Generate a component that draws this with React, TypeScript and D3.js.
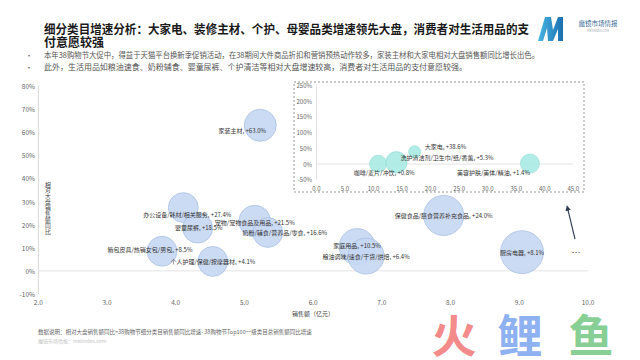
import React from "react";
import * as d3 from "d3";

// ---------- data ----------
const titleLines = [
  "细分类目增速分析：大家电、装修主材、个护、母婴品类增速领先大盘，消费者对生活用品的支",
  "付意愿较强",
];
const bulletLines = [
  "本年38购物节大促中，得益于天猫平台换新季促销活动，在38期间大件商品折扣和营销预热动作较多，家装主材和大家电相对大盘销售额同比增长出色。",
  "此外，生活用品如粮油速食、奶粉辅食、婴童尿裤、个护清洁等相对大盘增速较高，消费者对生活用品的支付意愿较强。",
];
const mainNames = [
  "家装主材",
  "办公设备/耗材/相关服务",
  "婴童尿裤",
  "宠物/宠物食品及用品",
  "奶粉/辅食/营养品/零食",
  "箱包皮具/热销女包/男包",
  "个人护理/保健/按摩器材",
  "保健食品/膳食营养补充食品",
  "厨房电器",
  "家庭用品",
  "粮油调味/速食/干货/烘焙",
];
const mainSales = [5.23, 4.11, 4.32, 5.15, 5.34, 3.8, 4.54, 7.9, 9.04, 6.64, 6.77];
const mainGrowth = [63.0, 27.4, 18.5, 21.5, 16.6, 8.5, 4.1, 24.0, 8.1, 10.5, 6.4];
const mainSize = [53, 46, 46, 52, 46, 46, 46, 83, 95, 67, 67];

const insetNames = ["咖啡/麦片/冲饮", "洗护清洁剂/卫生巾/纸/香薰", "大家电", "美容护肤/美体/精油"];
const insetSales = [10.8, 14.0, 17.2, 37.4];
const insetGrowth = [0.8, 5.3, 38.6, 1.4];
const insetSize = [60, 95, 30, 75];

const mainXTicks = [2, 3, 4, 5, 6, 7, 8, 9, 10];
const mainYTicks = [-10, 0, 10, 20, 30, 40, 50, 60, 70, 80];
const insetXTicks = [0, 5, 10, 15, 20, 25, 30, 35, 40, 45];
const insetYTicks = [-50, 0, 50, 100, 150, 200, 250];

const yAxisTitle = "相对大盘销售额同比";
const xAxisTitle = "销售额（亿元）";
const footNote = "数据说明：相对大盘销售额同比=38购物节细分类目销售额同比增速- 38购物节Top100一级类目总销售额同比增速";
const footSource = "魔镜市场情报：mktindex.com";
const watermarkChars = ["火", "鲤", "鱼"];

// ---------- layout (label placement relative to bubble) ----------
const mainLabelDx = [-18, 4, 1, 0, 17, -12, 0, 0, 0, 0, 0];
const mainLabelDy = [5, 7, -1, 1, 0, -2, 0, 0, 0, -1, 0];
const insetLabelAnchor = ["middle", "start", "start", "end"];
const insetLabelDx = [6, 4, 10, 0];
const insetLabelDy = [9, -5, -5, 9];
const watermarkX = [454, 520, 591];
const watermarkColors = ["#f37b7b", "#7ea6ef", "#78c987"];

const FONT = "'Noto Sans CJK SC', 'Noto Sans', sans-serif";

export default function App() {
  const xMain = d3.scaleLinear().domain([2, 10]).range([38.3, 588]);
  const yMain = d3.scaleLinear().domain([-10, 80]).range([294, 86]);
  const rMain = d3.scaleSqrt().domain([0, 100]).range([0, 22]);

  const xIn = d3.scaleLinear().domain([0, 45]).range([316.5, 573.3]);
  const yIn = d3.scaleLinear().domain([-50, 250]).range([179.7, 85.5]);
  const rIn = d3.scaleSqrt().domain([0, 100]).range([0, 11]);

  const pct = (v: number) => `${v >= 0 ? "+" : ""}${v.toFixed(1)}%`;

  return (
    <svg
      width={640}
      height={360}
      viewBox="0 0 640 360"
      style={{ position: "absolute", left: 0, top: 0, background: "#fff" }}
      fontFamily={FONT}
    >
      <rect width={640} height={360} fill="#fff" />
      <defs>
        <linearGradient id="mg" x1="0" x2="1" y1="0" y2="0">
          <stop offset="0" stopColor="#49b7e3" />
          <stop offset="1" stopColor="#1b6fb0" />
        </linearGradient>
        <marker id="ah" viewBox="0 0 10 10" refX="5" refY="5" markerWidth="5" markerHeight="5" orient="auto">
          <path d="M0,0 L10,5 L0,10 z" fill="#2e3b55" />
        </marker>
      </defs>

      {/* title */}
      <text x={44} y={34} fontSize={12} fontWeight={700} fill="#1a1a1a" textLength={485} lengthAdjust="spacingAndGlyphs">
        {titleLines[0]}
      </text>
      <text x={44} y={46.5} fontSize={12} fontWeight={700} fill="#1a1a1a">
        {titleLines[1]}
      </text>

      {/* logo */}
      <path d="M538,41 L545,17 L551,17 L553,30 L558,17 L563,17 L563,41 L558,41 L558,29 L553,41 L548,41 L547,28 L543,41 Z" fill="url(#mg)" />
      <text x={598} y={26} fontSize={6.5} fill="#3b6d9a" textAnchor="middle">魔镜市场情报</text>
      <text x={598} y={32} fontSize={3} fill="#9aa" textAnchor="middle">MKTINDEX.COM</text>

      {/* bullets */}
      {bulletLines.map((t, i) => (
        <g key={i}>
          <text x={29} y={58 + i * 12} fontSize={7} fill="#555" textAnchor="middle">•</text>
          <text x={44} y={58 + i * 12} fontSize={7.5} fill="#555" textLength={i === 0 ? 495 : 423} lengthAdjust="spacingAndGlyphs">
            {t}
          </text>
        </g>
      ))}

      {/* main axes */}
      <line x1={xMain(2)} x2={xMain(2)} y1={yMain(80)} y2={yMain(-10)} stroke="#d9d9d9" strokeWidth={1} />
      <line x1={xMain(2)} x2={xMain(10)} y1={yMain(0)} y2={yMain(0)} stroke="#e3e3e3" strokeWidth={1} />
      {mainYTicks.map((t) => (
        <text key={t} x={35} y={yMain(t)} fontSize={6.5} fill="#666" textAnchor="end" dominantBaseline="central">
          {`${t}%`}
        </text>
      ))}
      {mainXTicks.map((t) => (
        <text key={t} x={xMain(t)} y={302} fontSize={6.5} fill="#666" textAnchor="middle" dominantBaseline="central">
          {t.toFixed(1)}
        </text>
      ))}
      {yAxisTitle.split("").map((c, i) => (
        <text key={i} x={48} y={184 + i * 5.9} fontSize={5.8} fill="#444" textAnchor="middle" dominantBaseline="central">
          {c}
        </text>
      ))}
      <text x={313} y={313} fontSize={6} fill="#444" textAnchor="middle" dominantBaseline="central">
        {xAxisTitle}
      </text>

      {/* main bubbles */}
      {mainNames.map((n, i) => (
        <circle
          key={n}
          cx={xMain(mainSales[i])}
          cy={yMain(mainGrowth[i])}
          r={rMain(mainSize[i])}
          fill="#c5d7f3"
          fillOpacity={0.9}
          stroke="#a9c0e3"
          strokeWidth={0.8}
        />
      ))}
      {mainNames.map((n, i) => (
        <text
          key={n}
          x={xMain(mainSales[i]) + mainLabelDx[i]}
          y={yMain(mainGrowth[i]) + mainLabelDy[i]}
          fontSize={6}
          fill="#333"
          textAnchor="middle"
          dominantBaseline="central"
        >
          {`${n}, ${pct(mainGrowth[i])}`}
        </text>
      ))}

      {/* inset */}
      <rect x={294} y={82} width={290} height={110} fill="#fff" stroke="#8a8a8a" strokeWidth={0.9} strokeDasharray="2,2" />
      <line x1={xIn(0)} x2={xIn(0)} y1={yIn(250)} y2={yIn(-50)} stroke="#e0e0e0" />
      <line x1={xIn(0)} x2={xIn(45)} y1={yIn(0)} y2={yIn(0)} stroke="#e3e3e3" />
      {insetYTicks.map((t) => (
        <text key={t} x={312} y={yIn(t)} fontSize={6} fill="#666" textAnchor="end" dominantBaseline="central">
          {`${t}%`}
        </text>
      ))}
      {insetXTicks.map((t) => (
        <text key={t} x={xIn(t)} y={188} fontSize={6} fill="#666" textAnchor="middle" dominantBaseline="central">
          {t.toFixed(1)}
        </text>
      ))}
      {insetNames.map((n, i) => (
        <circle
          key={n}
          cx={xIn(insetSales[i])}
          cy={yIn(insetGrowth[i])}
          r={rIn(insetSize[i])}
          fill="#a8ebe3"
          fillOpacity={0.9}
          stroke="#90dad1"
          strokeWidth={0.6}
        />
      ))}
      {insetNames.map((n, i) => (
        <text
          key={n}
          x={xIn(insetSales[i]) + insetLabelDx[i]}
          y={yIn(insetGrowth[i]) + insetLabelDy[i]}
          fontSize={6}
          fill="#333"
          textAnchor={insetLabelAnchor[i] as any}
          dominantBaseline="central"
        >
          {`${n}, ${pct(insetGrowth[i])}`}
        </text>
      ))}

      {/* arrow and ellipsis */}
      <line x1={575} y1={239} x2={567.5} y2={208} stroke="#2e3b55" strokeWidth={1.1} markerEnd="url(#ah)" />
      <text x={576} y={252} fontSize={9} fill="#333" textAnchor="middle" dominantBaseline="central">…</text>

      {/* footer */}
      <text x={38} y={334} fontSize={5.5} fill="#666">{footNote}</text>
      <text x={38} y={343} fontSize={5} fill="#c4c4c4">{footSource}</text>

      {/* watermark */}
      {watermarkChars.map((c, i) => (
        <text
          key={c}
          x={watermarkX[i]}
          y={353}
          fontSize={45}
          fontWeight={700}
          fill={watermarkColors[i]}
          fillOpacity={0.9}
          textAnchor="middle"
        >
          {c}
        </text>
      ))}
    </svg>
  );
}
